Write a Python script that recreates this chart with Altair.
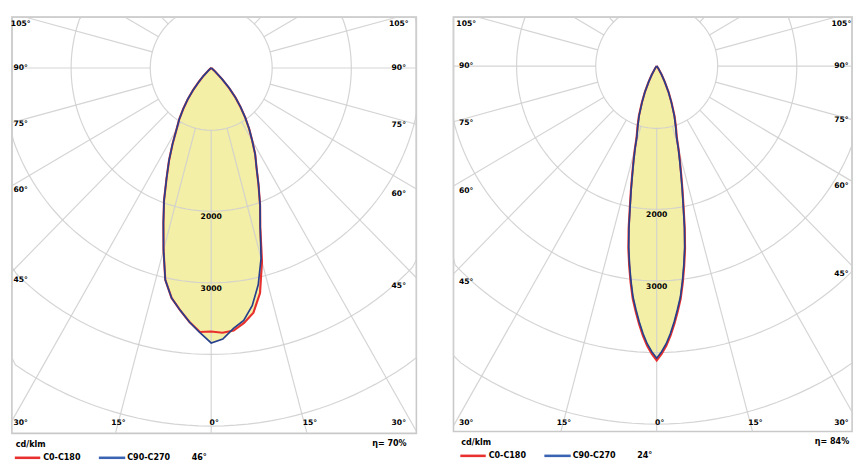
import math
import pandas as pd
import altair as alt

# ---------------- data ----------------
# Left diagram (46 deg beam): angle from nadir, luminous intensity cd/klm
ANG_A = [0, 2.5, 5, 7.5, 10, 12.5, 15, 17.5, 20, 22.5, 25, 27.5, 30, 32.5, 35, 37.5, 40, 42.5, 45, 50, 55, 60, 70, 80, 90]
C0_A = [3680, 3700, 3680, 3590, 3470, 3220, 2800, 2330, 2040, 1765, 1530, 1360, 1170, 1010, 850, 690, 540, 380, 220, 60, 10, 0, 0, 0, 0]
C180_A = [3680, 3690, 3560, 3410, 3260, 3030, 2630, 2270, 1970, 1665, 1425, 1195, 990, 850, 695, 550, 400, 260, 160, 40, 5, 0, 0, 0, 0]
C90_A = [3840, 3790, 3650, 3555, 3370, 3100, 2750, 2325, 2040, 1765, 1530, 1360, 1170, 1010, 850, 690, 540, 380, 220, 60, 10, 0, 0, 0, 0]
C270_A = [3840, 3700, 3560, 3410, 3260, 3030, 2630, 2270, 1970, 1665, 1425, 1195, 990, 850, 695, 550, 400, 260, 160, 40, 5, 0, 0, 0, 0]

# Right diagram (24 deg beam)
ANG_B = [0, 1, 2, 3, 4, 5, 6, 7, 8, 9, 10, 11, 12, 13, 14, 15, 16, 18, 20, 22.5, 25, 27.5, 30, 35, 40, 50, 90]
C0_B = [4110, 4020, 3910, 3770, 3610, 3440, 3270, 3050, 2820, 2585, 2305, 2010, 1770, 1555, 1375, 1210, 1045, 885, 745, 555, 400, 250, 145, 45, 5, 0, 0]
C180_B = [4110, 4020, 3910, 3770, 3610, 3440, 3270, 3050, 2820, 2585, 2305, 2010, 1770, 1555, 1375, 1210, 1045, 885, 745, 555, 400, 250, 145, 45, 5, 0, 0]
C90_B = [4080, 3990, 3880, 3740, 3580, 3410, 3240, 3020, 2790, 2555, 2280, 1985, 1750, 1535, 1355, 1195, 1030, 870, 730, 545, 395, 245, 140, 40, 5, 0, 0]
C270_B = [4080, 3990, 3880, 3740, 3580, 3410, 3240, 3020, 2790, 2555, 2280, 1985, 1750, 1535, 1355, 1195, 1030, 870, 730, 545, 395, 245, 140, 40, 5, 0, 0]

RINGS = [2000, 3000, 4000, 5000]
HUB = 870
RING_LABELS = [2000, 3000]
RAY_ANGLES = list(range(0, 360, 15))
SIDE_ANGLES = [105, 90, 75, 60, 45]
BOTTOM_ANGLES = [-30, -15, 0, 15, 30]
LEGEND_NAMES = ["C0-C180", "C90-C270"]
UNIT = "cd/klm"
BEAMS = ["46°", "24°"]
ETAS = ["η= 70%", "η= 84%"]

# ---------------- styling ----------------
KX = 0.0717  # horizontal pixels per cd/klm
KY = 0.0733  # vertical pixels per cd/klm
FILL = "#f4efa6"
GRID = "#cfcfcf"
FRAME = "#c9c9c9"
RED = "#e8302e"
BLUE = "#26408d"
LEG_BLUE = "#3a64b2"
FONT = "DejaVu Sans"
FS = 7.8
LFS = 8.2
INK = "#000000"


def outline(ang, left, right):
    rows = []
    for a, v in zip(ang[::-1], left[::-1]):
        t = math.radians(a)
        rows.append({"x": -v * math.sin(t), "y": -v * math.cos(t)})
    for a, v in zip(ang, right):
        t = math.radians(a)
        rows.append({"x": v * math.sin(t), "y": -v * math.cos(t)})
    df = pd.DataFrame(rows)
    df["seq"] = range(len(df))
    return df


def ray_end(phi, xmin, xmax, ymin, ymax):
    dx, dy = math.sin(math.radians(phi)), -math.cos(math.radians(phi))
    ts = []
    if dx > 1e-9:
        ts.append(xmax / dx)
    if dx < -1e-9:
        ts.append(xmin / dx)
    if dy > 1e-9:
        ts.append(ymax / dy)
    if dy < -1e-9:
        ts.append(ymin / dy)
    return min(ts), dx, dy


def txt(**kw):
    base = dict(font=FONT, fontWeight="bold", color=INK, baseline="middle")
    base.update(kw)
    return base


def panel(ang, c0, c180, c90, c270, W, H, cx, cy, ins_l, ins_r, side_dy, bot_gap, lx, eta_r, beam, eta):
    xmin, xmax = -cx / KX, (W - cx) / KX
    ymax, ymin = cy / KY, -(H - cy) / KY
    xs = alt.Scale(domain=[xmin, xmax], nice=False, zero=False, clamp=True)
    ys = alt.Scale(domain=[ymin, ymax], nice=False, zero=False, clamp=True)
    X = alt.X("x:Q", scale=xs, axis=None)
    Y = alt.Y("y:Q", scale=ys, axis=None)

    fill_df = outline(ang, [max(a, b) for a, b in zip(c180, c270)],
                      [max(a, b) for a, b in zip(c0, c90)])
    red_df = outline(ang, c180, c0)
    blue_df = outline(ang, c270, c90)

    ring_rows = []
    for r in [HUB] + RINGS:
        for i, d in enumerate(range(0, 361, 2)):
            t = math.radians(d)
            ring_rows.append({"ring": r, "seq": i, "x": r * math.sin(t), "y": -r * math.cos(t)})
    rings_df = pd.DataFrame(ring_rows)

    ray_rows = []
    for phi in RAY_ANGLES:
        t, dx, dy = ray_end(phi, xmin, xmax, ymin, ymax)
        if t > HUB:
            ray_rows.append({"x": HUB * dx, "y": HUB * dy, "x2": t * dx, "y2": t * dy})
    rays_df = pd.DataFrame(ray_rows)

    lab_rows = []
    for a, ddy in zip(SIDE_ANGLES, side_dy):
        t, dx, dy = ray_end(-a, xmin, xmax, ymin, ymax)
        lab_rows.append({"x": xmin + ins_l / KX, "y": t * dy - ddy / KY, "t": f"{a}°"})
        t, dx, dy = ray_end(a, xmin, xmax, ymin, ymax)
        lab_rows.append({"x": xmax - ins_r / KX, "y": t * dy - ddy / KY, "t": f"{a}°"})
    for a in BOTTOM_ANGLES:
        xb = -ymin * math.tan(math.radians(a))
        xb = max(xmin + ins_l / KX, min(xmax - ins_r / KX, xb + 3 / KX))
        lab_rows.append({"x": xb, "y": ymin + bot_gap / KY, "t": f"{abs(a)}°"})
    for v in RING_LABELS:
        lab_rows.append({"x": 0.0, "y": -v - 6 / KY, "t": str(v)})
    labs_df = pd.DataFrame(lab_rows)

    fill = alt.Chart(fill_df).mark_line(fill=FILL, stroke=FILL, strokeWidth=0.5).encode(
        x=X, y=Y, order="seq:Q")
    rings = alt.Chart(rings_df).mark_line(color=GRID, strokeWidth=1.2, opacity=0.9).encode(
        x=X, y=Y, detail="ring:N", order="seq:Q")
    rays = alt.Chart(rays_df).mark_rule(color=GRID, strokeWidth=1.2, opacity=0.9).encode(
        x=X, y=Y, x2="x2:Q", y2="y2:Q")
    red = alt.Chart(red_df).mark_line(color=RED, strokeWidth=2.2).encode(x=X, y=Y, order="seq:Q")
    blue = alt.Chart(blue_df).mark_line(color=BLUE, strokeWidth=1.7).encode(x=X, y=Y, order="seq:Q")
    labels = alt.Chart(labs_df).mark_text(**txt(fontSize=FS)).encode(x=X, y=Y, text="t:N")

    one = pd.DataFrame({"k": [0]})
    ty = H + 12
    ly = H + 25
    legend = [
        alt.Chart(one).mark_text(**txt(fontSize=LFS, align="left")).encode(
            x=alt.value(lx + 1), y=alt.value(ty), text=alt.value(UNIT)),
        alt.Chart(one).mark_rule(color=RED, strokeWidth=2.6).encode(
            x=alt.value(lx), x2=alt.value(lx + 26), y=alt.value(ly)),
        alt.Chart(one).mark_text(**txt(fontSize=LFS, align="left")).encode(
            x=alt.value(lx + 29), y=alt.value(ly), text=alt.value(LEGEND_NAMES[0])),
        alt.Chart(one).mark_rule(color=LEG_BLUE, strokeWidth=2.6).encode(
            x=alt.value(lx + 86), x2=alt.value(lx + 113), y=alt.value(ly)),
        alt.Chart(one).mark_text(**txt(fontSize=LFS, align="left")).encode(
            x=alt.value(lx + 115), y=alt.value(ly), text=alt.value(LEGEND_NAMES[1])),
        alt.Chart(one).mark_text(**txt(fontSize=LFS, align="left")).encode(
            x=alt.value(lx + 181), y=alt.value(ly), text=alt.value(beam)),
        alt.Chart(one).mark_text(**txt(fontSize=LFS, align="right")).encode(
            x=alt.value(W - eta_r), y=alt.value(ty - 1), text=alt.value(eta)),
    ]
    return alt.layer(fill, rings, rays, red, blue, labels, *legend).properties(width=W, height=H)


left = panel(ANG_A, C0_A, C180_A, C90_A, C270_A, W=414, H=426, cx=204, cy=52,
             ins_l=9, ins_r=18, side_dy=[7, 0, 1, 5, 8], bot_gap=11, lx=3, eta_r=10,
             beam=BEAMS[0], eta=ETAS[0])
right = panel(ANG_B, C0_B, C180_B, C90_B, C270_B, W=408, H=424, cx=208, cy=50,
              ins_l=13, ins_r=11, side_dy=[7, 0, 1, 5, 8], bot_gap=9, lx=7, eta_r=3,
              beam=BEAMS[1], eta=ETAS[1])

chart = alt.hconcat(left, right, spacing=30).properties(padding=0).configure_view(
    stroke=FRAME, strokeWidth=1.6)

chart.save("out.html", embed_options={"renderer": "svg", "actions": False})
